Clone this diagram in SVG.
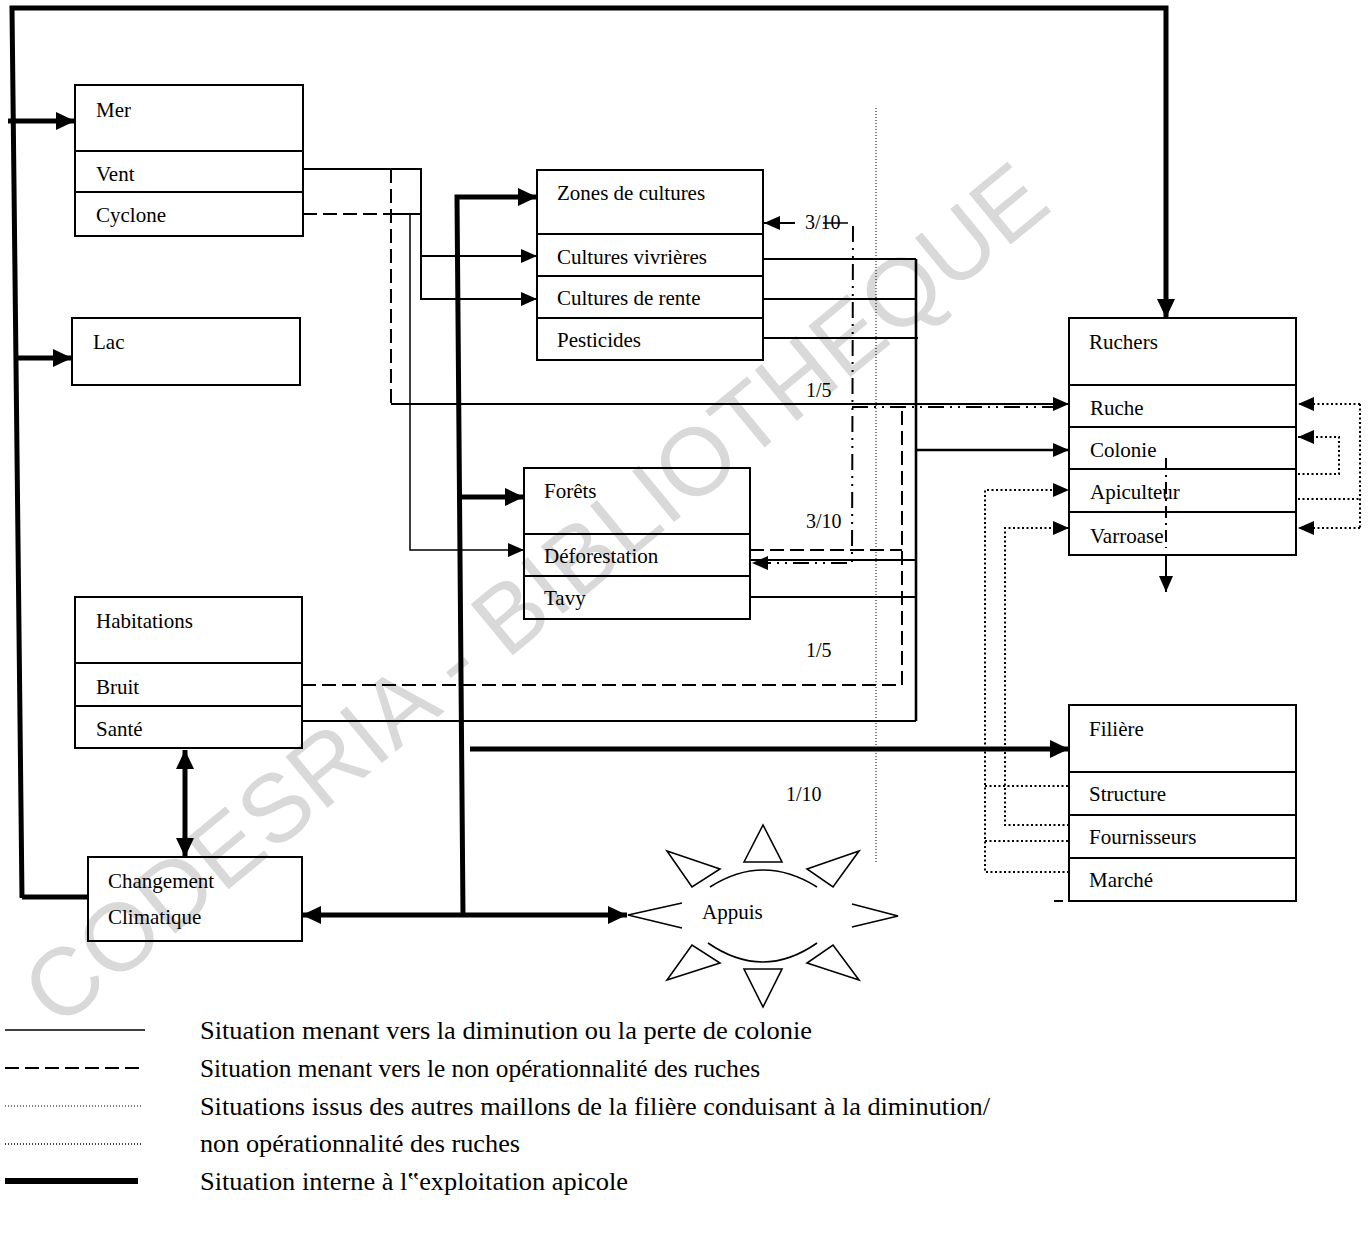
<svg xmlns="http://www.w3.org/2000/svg" width="1368" height="1257" viewBox="0 0 1368 1257">
<defs>
<style>
.box{fill:none;stroke:#000;stroke-width:2}
.t{font-family:"Liberation Serif","Times New Roman",serif;font-size:21px;fill:#000}
.f{font-family:"Liberation Serif","Times New Roman",serif;font-size:20px;fill:#000}
.lg{font-family:"Liberation Serif","Times New Roman",serif;font-size:26px;fill:#000}
.thin{fill:none;stroke:#000;stroke-width:2}
.hair{fill:none;stroke:#000;stroke-width:1.5}
.med{fill:none;stroke:#000;stroke-width:2.6}
.thick{fill:none;stroke:#000;stroke-width:5}
.dash{fill:none;stroke:#000;stroke-width:2;stroke-dasharray:14 6}
.dot{fill:none;stroke:#000;stroke-width:2;stroke-dasharray:2 2.5}
.fdot{fill:none;stroke:#000;stroke-width:1;stroke-dasharray:1 2}
.dd{fill:none;stroke:#000;stroke-width:2;stroke-dasharray:16 6 2 6 2 6}
.sun{fill:none;stroke:#000;stroke-width:1.6}
</style>
<marker id="ah" markerUnits="userSpaceOnUse" viewBox="0 0 16 14" markerWidth="16" markerHeight="14" refX="16" refY="7" orient="auto-start-reverse"><path d="M0,0L16,7L0,14z" fill="#000"/></marker>
<marker id="AH" markerUnits="userSpaceOnUse" viewBox="0 0 19 18" markerWidth="19" markerHeight="18" refX="19" refY="9" orient="auto-start-reverse"><path d="M0,0L19,9L0,18z" fill="#000"/></marker>
</defs>
<rect width="1368" height="1257" fill="#fff"/>
<text x="58" y="1030" transform="rotate(-39.5 58 1030)" font-family="'Liberation Sans',Arial,sans-serif" font-size="96" fill="#d9d9d9">CODESRIA - BIBLIOTHEQUE</text>

<g id="connectors">
<path class="thick" d="M22,898 L12,8 L1166,8 L1166,318" marker-end="url(#AH)"/>
<path class="thick" d="M22,897 L88,897"/>
<path class="thick" d="M8,121 L75,121" marker-end="url(#AH)"/>
<path class="thick" d="M17,358 L72,358" marker-end="url(#AH)"/>
<path class="thick" d="M185,750 L185,857" marker-start="url(#AH)" marker-end="url(#AH)"/>
<path class="thick" d="M302,915 L627,915" marker-start="url(#AH)" marker-end="url(#AH)"/>
<path class="thick" d="M463,915 L457,197 L537,197" marker-end="url(#AH)"/>
<path class="thick" d="M461,497 L524,497" marker-end="url(#AH)"/>
<path class="thick" d="M470,749 L1069,749" marker-end="url(#AH)"/>

<path class="thin" d="M303,169 L421,169 L421,299 L537,299" marker-end="url(#ah)"/>
<path class="thin" d="M421,256 L537,256" marker-end="url(#ah)"/>
<path class="thin" d="M391,214 L421,214"/>
<path class="hair" d="M410,214 L410,550 L524,550" marker-end="url(#ah)"/>
<path class="thin" d="M391,404 L1069,404" marker-end="url(#ah)"/>
<path class="thin" d="M763,259 L916,259 M763,299 L916,299 M763,338 L918,338 M750,560 L916,560 M750,597 L916,597 M302,721 L916,721"/>
<path class="med" d="M916,259 L916,721"/>
<path class="med" d="M916,450 L1069,450" marker-end="url(#ah)"/>

<path class="dash" d="M303,214 L391,214"/>
<path class="dash" d="M391,169 L391,404"/>
<path class="dash" d="M302,685 L902,685 L902,407"/>
<path class="dash" d="M750,550 L902,550"/>

<path class="dd" d="M853,226 L852,563 L752,563" marker-end="url(#ah)"/>
<path class="dd" d="M852,407 L1060,407"/>
<path class="thin" d="M795,223 L764,223" marker-end="url(#ah)"/>
<path class="hair" d="M823,223 L848,223"/>

<path class="fdot" d="M876,108 L876,862"/>

<path class="dot" d="M1069,872 L985,872 L985,490 L1069,490" marker-end="url(#ah)"/>
<path class="dot" d="M985,786 L1069,786 M985,841 L1069,841"/>
<path class="dot" d="M1069,825 L1005,825 L1005,528 L1069,528" marker-end="url(#ah)"/>
<path class="dot" d="M1298,499 L1360,499 M1360,404 L1360,528"/>
<path class="dot" d="M1360,404 L1298,404" marker-end="url(#ah)"/>
<path class="dot" d="M1360,528 L1298,528" marker-end="url(#ah)"/>
<path class="dot" d="M1298,474 L1339,474 L1339,437 L1298,437" marker-end="url(#ah)"/>

<path class="thin" d="M1166,458 L1166,548" style="stroke-dasharray:12 5 2 5"/>
<path class="thin" d="M1166,556 L1166,592" marker-end="url(#ah)"/>
<path class="thin" d="M1054,901 L1102,901" style="stroke-dasharray:9 16"/>
</g>

<g id="mer">
<rect class="box" x="75" y="85" width="228" height="151"/>
<path class="box" d="M75,151 H303 M75,192 H303"/>
<text class="t" x="96" y="117">Mer</text>
<text class="t" x="96" y="181">Vent</text>
<text class="t" x="96" y="222">Cyclone</text>
</g>
<g id="lac">
<rect class="box" x="72" y="318" width="228" height="67"/>
<text class="t" x="93" y="349">Lac</text>
</g>
<g id="zones">
<rect class="box" x="537" y="170" width="226" height="190"/>
<path class="box" d="M537,234 H763 M537,276 H763 M537,318 H763"/>
<text class="t" x="557" y="200">Zones de cultures</text>
<text class="t" x="557" y="264">Cultures vivrières</text>
<text class="t" x="557" y="305">Cultures de rente</text>
<text class="t" x="557" y="347">Pesticides</text>
</g>
<g id="forets">
<rect class="box" x="524" y="468" width="226" height="151"/>
<path class="box" d="M524,534 H750 M524,576 H750"/>
<text class="t" x="544" y="498">Forêts</text>
<text class="t" x="544" y="563">Déforestation</text>
<text class="t" x="544" y="605">Tavy</text>
</g>
<g id="habitations">
<rect class="box" x="75" y="597" width="227" height="151"/>
<path class="box" d="M75,663 H302 M75,706 H302"/>
<text class="t" x="96" y="628">Habitations</text>
<text class="t" x="96" y="694">Bruit</text>
<text class="t" x="96" y="736">Santé</text>
</g>
<g id="changement">
<rect class="box" x="88" y="857" width="214" height="84"/>
<text class="t" x="108" y="888">Changement</text>
<text class="t" x="108" y="924">Climatique</text>
</g>
<g id="ruchers">
<rect class="box" x="1069" y="318" width="227" height="237"/>
<path class="box" d="M1069,385 H1296 M1069,427 H1296 M1069,469 H1296 M1069,512 H1296"/>
<text class="t" x="1089" y="349">Ruchers</text>
<text class="t" x="1090" y="415">Ruche</text>
<text class="t" x="1090" y="457">Colonie</text>
<text class="t" x="1090" y="499">Apiculteur</text>
<text class="t" x="1090" y="543">Varroase</text>
</g>
<g id="filiere">
<rect class="box" x="1069" y="705" width="227" height="196"/>
<path class="box" d="M1069,772 H1296 M1069,815 H1296 M1069,858 H1296"/>
<text class="t" x="1089" y="736">Filière</text>
<text class="t" x="1089" y="801">Structure</text>
<text class="t" x="1089" y="844">Fournisseurs</text>
<text class="t" x="1089" y="887">Marché</text>
</g>
<g id="appuis">
<path class="sun" d="M710,887 Q763,853 817,887"/>
<path class="sun" d="M708,943 Q763,981 817,943"/>
<path class="sun" d="M682,903 L628,915 L682,928"/>
<path class="sun" d="M852,904 L898,916 L852,927"/>
<path class="sun" d="M744,862 L763,825 L782,862 Z"/>
<path class="sun" d="M744,969 L782,969 L763,1007 Z"/>
<path class="sun" d="M667,851 L720,869 L692,887 Z"/>
<path class="sun" d="M859,851 L807,869 L833,887 Z"/>
<path class="sun" d="M667,980 L720,963 L692,945 Z"/>
<path class="sun" d="M859,980 L807,963 L833,945 Z"/>
<text class="t" x="702" y="919">Appuis</text>
</g>
<g id="fractions">
<text class="f" x="805" y="229">3/10</text>
<text class="f" x="806" y="397">1/5</text>
<text class="f" x="806" y="528">3/10</text>
<text class="f" x="806" y="657">1/5</text>
<text class="f" x="786" y="801">1/10</text>
</g>
<g id="legend">
<path class="hair" d="M5,1030 L145,1030"/>
<path class="dash" d="M5,1068 L145,1068"/>
<path class="fdot" d="M5,1106 L143,1106"/>
<path class="fdot" d="M5,1144 L143,1144" style="stroke-width:1.6"/>
<path class="thick" d="M5,1181 L138,1181" style="stroke-width:6"/>
<text class="lg" x="200" y="1039" textLength="612" lengthAdjust="spacingAndGlyphs">Situation menant vers la diminution ou la perte de colonie</text>
<text class="lg" x="200" y="1077" textLength="560" lengthAdjust="spacingAndGlyphs">Situation menant vers le non opérationnalité des ruches</text>
<text class="lg" x="200" y="1115" textLength="790" lengthAdjust="spacingAndGlyphs">Situations issus des autres maillons de la filière conduisant à la diminution/</text>
<text class="lg" x="200" y="1152" textLength="320" lengthAdjust="spacingAndGlyphs">non opérationnalité des ruches</text>
<text class="lg" x="200" y="1190" textLength="428" lengthAdjust="spacingAndGlyphs">Situation interne à l‟exploitation apicole</text>
</g>
</svg>
